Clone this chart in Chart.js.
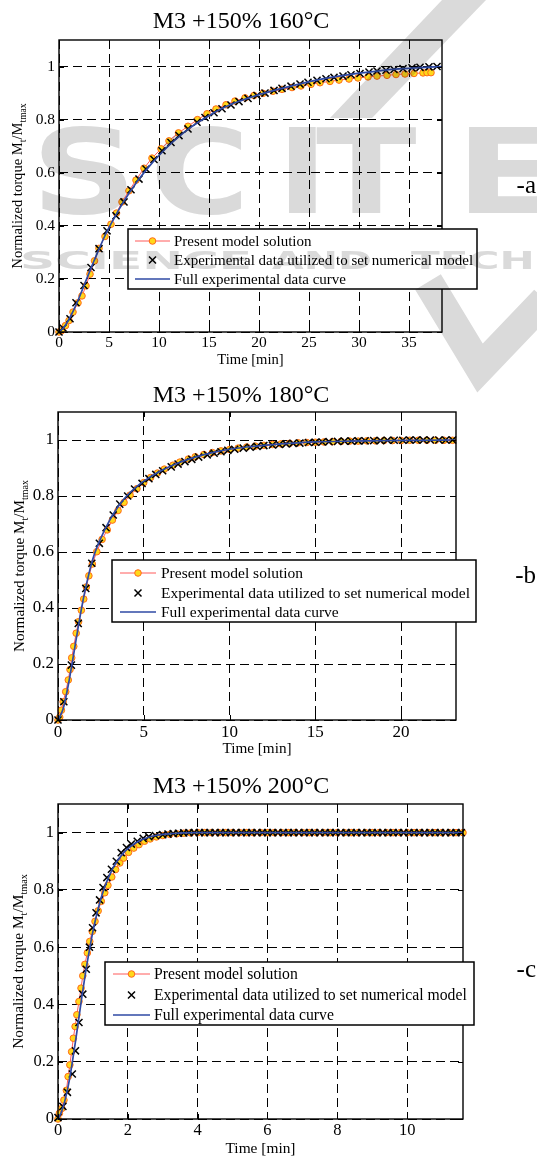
<!DOCTYPE html>
<html>
<head>
<meta charset="utf-8">
<script src="https://cdn.jsdelivr.net/npm/chart.js@4.4.1/dist/chart.umd.min.js"></script>
<style>
  html, body { margin: 0; padding: 0; background: #fff; }
  body { width: 537px; height: 1158px; position: relative; overflow: hidden; }
  canvas.panel { position: absolute; left: 0; display: block; }
  #wm { position: absolute; left: 0; top: 0; mix-blend-mode: multiply; pointer-events: none; }
</style>
</head>
<body>
<canvas class="panel" id="chartA" width="537" height="370" style="top:0"></canvas>
<canvas class="panel" id="chartB" width="537" height="400" style="top:370px"></canvas>
<canvas class="panel" id="chartC" width="537" height="388" style="top:770px"></canvas>
<canvas id="wm" width="537" height="1158"></canvas>
<script>
// ---- data: 160°C ----
const tModelA = [0, 0.25, 0.65, 1.0, 1.4, 1.9, 2.3, 2.7, 3.1, 3.55, 4.0, 4.6, 5.2, 5.75, 6.3, 7.0, 7.7, 8.5, 9.3, 10.2, 11.0, 11.95, 12.9, 13.85, 14.8, 15.7, 16.7, 17.6, 18.6, 19.5, 20.4, 21.4, 22.3, 23.3, 24.2, 25.2, 26.1, 27.1, 28.0, 29.0, 29.9, 30.9, 31.8, 32.8, 33.7, 34.6, 35.5, 36.4, 36.8, 37.2];
const modelA = [0, 0.005, 0.024, 0.043, 0.075, 0.11, 0.136, 0.174, 0.218, 0.268, 0.315, 0.36, 0.406, 0.448, 0.49, 0.532, 0.572, 0.617, 0.655, 0.69, 0.72, 0.75, 0.775, 0.8, 0.822, 0.84, 0.856, 0.87, 0.882, 0.891, 0.899, 0.907, 0.914, 0.921, 0.927, 0.933, 0.939, 0.944, 0.949, 0.953, 0.957, 0.961, 0.964, 0.967, 0.97, 0.972, 0.974, 0.976, 0.977, 0.977];
const tExpA = [0, 0.4, 1.1, 1.7, 2.5, 3.2, 4.0, 4.8, 5.7, 6.5, 7.2, 8.0, 8.7, 9.5, 10.3, 11.2, 12.0, 12.9, 13.8, 14.6, 15.5, 16.3, 17.2, 18.0, 18.9, 19.8, 20.6, 21.5, 22.3, 23.2, 24.1, 24.9, 25.8, 26.7, 27.5, 28.4, 29.2, 30.1, 31.0, 31.8, 32.7, 33.5, 34.4, 35.3, 36.1, 37.0, 37.8];
const expA = [0, 0.015, 0.05, 0.11, 0.175, 0.243, 0.314, 0.381, 0.438, 0.49, 0.536, 0.576, 0.614, 0.65, 0.683, 0.714, 0.74, 0.765, 0.79, 0.808, 0.826, 0.841, 0.855, 0.868, 0.88, 0.891, 0.9, 0.91, 0.918, 0.926, 0.934, 0.941, 0.948, 0.954, 0.959, 0.964, 0.969, 0.974, 0.979, 0.983, 0.986, 0.989, 0.992, 0.995, 0.997, 0.999, 1.0];
const tFullA = [0, 0.5, 1, 1.5, 2, 2.5, 3, 3.5, 4, 4.5, 5, 5.5, 6, 6.5, 7, 7.5, 8, 9, 10, 11, 12, 13, 14, 15, 16, 17, 18, 19, 20, 22, 24, 26, 28, 30, 32, 34, 36, 38.3];
const fullA = [0, 0.018, 0.048, 0.085, 0.128, 0.175, 0.222, 0.268, 0.312, 0.355, 0.393, 0.428, 0.462, 0.493, 0.523, 0.55, 0.576, 0.623, 0.665, 0.703, 0.736, 0.766, 0.792, 0.815, 0.836, 0.854, 0.869, 0.882, 0.894, 0.915, 0.934, 0.951, 0.964, 0.975, 0.984, 0.991, 0.996, 1.0];

// ---- data: 180°C ----
const tModelB = [0, 0.1, 0.2, 0.3, 0.45, 0.6, 0.7, 0.8, 0.92, 1.06, 1.2, 1.36, 1.5, 1.65, 1.8, 2.0, 2.26, 2.57, 2.87, 3.17, 3.5, 3.85, 4.2, 4.6, 5.0, 5.4, 5.8, 6.2, 6.7, 7.1, 7.6, 8.0, 8.5, 9.0, 9.5, 10.0, 10.5, 11.0, 11.5, 12.0, 12.5, 13.0, 13.5, 14.0, 14.5, 15.0, 15.5, 16.0, 16.5, 17.0, 17.5, 18.0, 18.5, 19.0, 19.5, 20.0, 20.5, 21.0, 21.5, 22.0, 22.5, 23.0];
const modelB = [0, 0.01, 0.035, 0.065, 0.101, 0.143, 0.18, 0.222, 0.263, 0.31, 0.351, 0.392, 0.432, 0.475, 0.515, 0.557, 0.601, 0.645, 0.679, 0.714, 0.748, 0.777, 0.803, 0.826, 0.848, 0.866, 0.882, 0.896, 0.91, 0.921, 0.932, 0.94, 0.948, 0.955, 0.961, 0.966, 0.971, 0.975, 0.978, 0.981, 0.984, 0.986, 0.988, 0.99, 0.991, 0.992, 0.993, 0.994, 0.995, 0.996, 0.996, 0.997, 0.997, 0.998, 0.998, 0.998, 0.999, 0.999, 0.999, 0.999, 0.999, 0.999];
const tExpB = [0, 0.34, 0.78, 1.18, 1.62, 1.97, 2.41, 2.8, 3.22, 3.6, 4.06, 4.46, 4.9, 5.3, 5.7, 6.1, 6.6, 7.0, 7.4, 7.8, 8.2, 8.7, 9.1, 9.5, 9.9, 10.3, 10.8, 11.2, 11.6, 12.0, 12.5, 12.9, 13.3, 13.7, 14.1, 14.6, 15.0, 15.4, 15.8, 16.3, 16.7, 17.1, 17.5, 17.9, 18.4, 18.8, 19.2, 19.6, 20.1, 20.5, 20.9, 21.3, 21.7, 22.2, 22.6, 23.0];
const expB = [0, 0.065, 0.196, 0.345, 0.47, 0.56, 0.631, 0.687, 0.732, 0.771, 0.8, 0.825, 0.845, 0.862, 0.877, 0.89, 0.904, 0.914, 0.923, 0.931, 0.939, 0.947, 0.953, 0.958, 0.963, 0.967, 0.971, 0.974, 0.977, 0.98, 0.982, 0.984, 0.986, 0.988, 0.989, 0.991, 0.992, 0.993, 0.994, 0.995, 0.996, 0.996, 0.997, 0.997, 0.998, 0.998, 0.999, 0.999, 0.999, 1.0, 1.0, 1.0, 1.0, 1.0, 1.0, 1.0];
const tFullB = [0, 0.3, 0.6, 0.9, 1.2, 1.5, 1.8, 2.1, 2.5, 3, 3.5, 4, 4.5, 5, 6, 7, 8, 9, 10, 11, 12, 13, 14, 15, 17, 19, 21, 23.2];
const fullB = [0, 0.04, 0.125, 0.23, 0.34, 0.44, 0.522, 0.588, 0.65, 0.712, 0.762, 0.8, 0.829, 0.853, 0.89, 0.918, 0.939, 0.955, 0.967, 0.975, 0.981, 0.986, 0.99, 0.993, 0.996, 0.998, 0.999, 1.0];

// ---- data: 200°C ----
const tModelC = [0, 0.04, 0.11, 0.17, 0.24, 0.29, 0.34, 0.39, 0.44, 0.49, 0.54, 0.6, 0.66, 0.71, 0.77, 0.84, 0.91, 0.98, 1.06, 1.15, 1.24, 1.34, 1.43, 1.54, 1.65, 1.77, 1.88, 2.02, 2.17, 2.32, 2.48, 2.64, 2.82, 3.0, 3.2, 3.4, 3.6, 3.8,
  4.0, 4.2, 4.4, 4.6, 4.8, 5.0, 5.2, 5.4, 5.6, 5.8, 6.0, 6.2, 6.4, 6.6, 6.8, 7.0, 7.2, 7.4, 7.6, 7.8, 8.0, 8.2, 8.4, 8.6, 8.8, 9.0, 9.2, 9.4, 9.6, 9.8, 10.0, 10.2, 10.4, 10.6, 10.8, 11.0, 11.2, 11.4, 11.6];
const modelC = [0, 0.02, 0.037, 0.066, 0.1, 0.148, 0.189, 0.235, 0.282, 0.323, 0.364, 0.41, 0.457, 0.5, 0.54, 0.58, 0.62, 0.655, 0.69, 0.727, 0.76, 0.79, 0.816, 0.845, 0.871, 0.894, 0.911, 0.931, 0.946, 0.958, 0.97, 0.978, 0.985, 0.99, 0.994, 0.996, 0.998, 0.999,
  1, 1, 1, 1, 1, 1, 1, 1, 1, 1, 1, 1, 1, 1, 1, 1, 1, 1, 1, 1, 1, 1, 1, 1, 1, 1, 1, 1, 1, 1, 1, 1, 1, 1, 1, 1, 1, 1, 1];
const tExpC = [0, 0.14, 0.27, 0.41, 0.5, 0.6, 0.71, 0.81, 0.9, 0.99, 1.09, 1.19, 1.29, 1.4, 1.53, 1.67, 1.81, 1.96, 2.1, 2.27, 2.44, 2.6, 2.79, 3.0,
  3.15, 3.3, 3.45, 3.6, 3.75, 3.9, 4.05, 4.2, 4.35, 4.5, 4.65, 4.8, 4.95, 5.1, 5.25, 5.4, 5.55, 5.7, 5.85, 6.0, 6.15, 6.3, 6.45, 6.6, 6.75, 6.9, 7.05, 7.2, 7.35, 7.5, 7.65, 7.8, 7.95, 8.1, 8.25, 8.4, 8.55, 8.7, 8.85, 9.0, 9.15, 9.3, 9.45, 9.6, 9.75, 9.9, 10.05, 10.2, 10.35, 10.5, 10.65, 10.8, 10.95, 11.1, 11.25, 11.4, 11.55];
const expC = [0.005, 0.044, 0.093, 0.157, 0.238, 0.337, 0.436, 0.523, 0.6, 0.668, 0.72, 0.765, 0.808, 0.843, 0.872, 0.9, 0.93, 0.948, 0.96, 0.97, 0.98, 0.986, 0.99, 0.993,
  0.995, 0.997, 0.998, 0.999, 1, 1, 1, 1, 1, 1, 1, 1, 1, 1, 1, 1, 1, 1, 1, 1, 1, 1, 1, 1, 1, 1, 1, 1, 1, 1, 1, 1, 1, 1, 1, 1, 1, 1, 1, 1, 1, 1, 1, 1, 1, 1, 1, 1, 1, 1, 1, 1, 1, 1, 1, 1, 1];
const tFullC = [0, 0.1, 0.2, 0.3, 0.4, 0.5, 0.6, 0.7, 0.8, 0.9, 1.0, 1.1, 1.2, 1.3, 1.4, 1.5, 1.6, 1.8, 2.0, 2.2, 2.4, 2.6, 2.8, 3.0, 3.3, 3.6, 4.0, 5, 6, 7, 8, 9, 10, 11, 11.6];
const fullC = [0, 0.025, 0.065, 0.12, 0.19, 0.27, 0.355, 0.44, 0.52, 0.59, 0.655, 0.71, 0.757, 0.797, 0.83, 0.858, 0.882, 0.918, 0.944, 0.962, 0.975, 0.984, 0.99, 0.994, 0.997, 0.999, 1, 1, 1, 1, 1, 1, 1, 1, 1];

// ---- ticks / labels ----
const xTicksA = [0, 5, 10, 15, 20, 25, 30, 35];
const xTicksB = [0, 5, 10, 15, 20];
const xTicksC = [0, 2, 4, 6, 8, 10];
const yTicks = [0, 0.2, 0.4, 0.6, 0.8, 1];
const seriesNames = ['Present model solution', 'Experimental data utilized to set numerical model', 'Full experimental data curve'];

const SERIF = "'Liberation Serif', 'Times New Roman', serif";
const RED = '#ff5a5a', YEL = '#ffd81a', ORG = '#ff6a1a', BLUE = '#2f4aa5';

const pts = (xs, ys) => xs.map((x, i) => ({ x, y: ys[i] }));

function makeDatasets(tm, ym, te, ye, tf, yf) {
    return [
        { label: seriesNames[0], data: pts(tm, ym), showLine: true, borderColor: RED, borderWidth: 1,
          pointRadius: 3.3, pointBackgroundColor: YEL, pointBorderColor: ORG, pointBorderWidth: 1, order: 3, clip: false },
        { label: seriesNames[1], data: pts(te, ye), showLine: false, pointStyle: 'crossRot', pointRadius: 5,
          pointBorderColor: '#000', pointBorderWidth: 1.5, order: 2, clip: false },
        { label: seriesNames[2], data: pts(tf, yf), showLine: true, borderColor: BLUE, borderWidth: 1.7,
          pointRadius: 0, cubicInterpolationMode: 'monotone', order: 1, clip: false },
    ];
}

function drawYLabel(ctx, cx, cy, size) {
    ctx.save();
    ctx.translate(cx, cy);
    ctx.rotate(-Math.PI / 2);
    const big = size + 'px ' + SERIF;
    const small = (size * 0.66).toFixed(1) + 'px ' + SERIF;
    const parts = [['Normalized torque M', big, 0], ['t', small, size * 0.25], ['/M', big, 0], ['tmax', small, size * 0.25]];
    ctx.textAlign = 'left';
    ctx.textBaseline = 'alphabetic';
    let total = 0;
    parts.forEach(([s, f]) => { ctx.font = f; total += ctx.measureText(s).width; });
    let x = -total / 2;
    ctx.fillStyle = '#000';
    parts.forEach(([s, f, dy]) => {
        ctx.font = f;
        ctx.fillText(s, x, dy);
        x += ctx.measureText(s).width;
    });
    ctx.restore();
}

function drawLegend(ctx, lg) {
    ctx.save();
    ctx.fillStyle = '#fff';
    ctx.fillRect(lg.x, lg.y, lg.w, lg.h);
    ctx.strokeStyle = '#000';
    ctx.lineWidth = 1.5;
    ctx.strokeRect(lg.x, lg.y, lg.w, lg.h);
    const mid = (lg.lx0 + lg.lx1) / 2;
    // model
    ctx.strokeStyle = RED; ctx.lineWidth = 1;
    ctx.beginPath(); ctx.moveTo(lg.lx0, lg.rows[0]); ctx.lineTo(lg.lx1, lg.rows[0]); ctx.stroke();
    ctx.beginPath(); ctx.arc(mid, lg.rows[0], 3.3, 0, Math.PI * 2);
    ctx.fillStyle = YEL; ctx.fill(); ctx.strokeStyle = ORG; ctx.stroke();
    // experimental points
    ctx.strokeStyle = '#000'; ctx.lineWidth = 1.5;
    const r = 3.5;
    ctx.beginPath();
    ctx.moveTo(mid - r, lg.rows[1] - r); ctx.lineTo(mid + r, lg.rows[1] + r);
    ctx.moveTo(mid - r, lg.rows[1] + r); ctx.lineTo(mid + r, lg.rows[1] - r);
    ctx.stroke();
    // full curve
    ctx.strokeStyle = BLUE; ctx.lineWidth = 1.7;
    ctx.beginPath(); ctx.moveTo(lg.lx0, lg.rows[2]); ctx.lineTo(lg.lx1, lg.rows[2]); ctx.stroke();
    ctx.fillStyle = '#000';
    ctx.font = lg.font + 'px ' + SERIF;
    ctx.textBaseline = 'middle';
    ctx.textAlign = 'left';
    seriesNames.forEach((s, i) => ctx.fillText(s, lg.tx, lg.rows[i] + 1));
    ctx.restore();
}

function decorPlugin(cfg) {
    return {
        id: 'decor',
        afterDraw(chart) {
            const { ctx, chartArea: ca, scales } = chart;
            ctx.save();
            // inward ticks on all sides
            ctx.strokeStyle = '#000';
            ctx.lineWidth = 1;
            ctx.beginPath();
            scales.x.ticks.forEach((t) => {
                const px = Math.round(scales.x.getPixelForValue(t.value)) + 0.5;
                ctx.moveTo(px, ca.bottom); ctx.lineTo(px, ca.bottom - 5);
                ctx.moveTo(px, ca.top); ctx.lineTo(px, ca.top + 5);
            });
            scales.y.ticks.forEach((t) => {
                const py = Math.round(scales.y.getPixelForValue(t.value)) + 0.5;
                ctx.moveTo(ca.left, py); ctx.lineTo(ca.left + 5, py);
                ctx.moveTo(ca.right, py); ctx.lineTo(ca.right - 5, py);
            });
            ctx.stroke();
            // frame
            ctx.lineWidth = 1.4;
            ctx.strokeRect(ca.left, ca.top, ca.right - ca.left, ca.bottom - ca.top);

            ctx.fillStyle = '#000';
            ctx.textBaseline = 'alphabetic';
            // title
            ctx.textAlign = 'center';
            ctx.font = '24px ' + SERIF;
            ctx.fillText(cfg.title, 241, cfg.titleY);
            // x label
            ctx.font = cfg.labelSize + 'px ' + SERIF;
            ctx.fillText('Time [min]', (ca.left + ca.right) / 2, cfg.xLabelY);
            // panel tag
            ctx.textAlign = 'right';
            ctx.font = '25px ' + SERIF;
            ctx.fillText(cfg.tag, 536, cfg.tagY);
            ctx.restore();
            // y label
            drawYLabel(ctx, cfg.yLabelX, (ca.top + ca.bottom) / 2, cfg.labelSize);
            drawLegend(ctx, cfg.legend);
        },
    };
}

function axis(min, max, ticks, tickSize, pad, fit) {
    return {
        type: 'linear',
        min, max,
        afterBuildTicks: (s) => { s.ticks = ticks.map((v) => ({ value: v })); },
        afterFit: fit,
        grid: { color: '#000', lineWidth: 1, drawTicks: false },
        border: { display: false, dash: [9, 5] },
        ticks: { color: '#000', padding: pad, autoSkip: false, maxRotation: 0,
                 font: { family: SERIF, size: tickSize }, callback: (v) => String(v) },
    };
}

function makeChart(id, cfg) {
    new Chart(document.getElementById(id), {
        type: 'scatter',
        data: { datasets: cfg.datasets },
        options: {
            responsive: false,
            animation: false,
            events: [],
            layout: { padding: cfg.padding },
            plugins: { legend: { display: false }, tooltip: { enabled: false } },
            scales: {
                x: axis(0, cfg.xMax, cfg.xTicks, cfg.tickSize, 2, (s) => { s.height = cfg.xHeight; }),
                y: axis(0, 1.1, yTicks, cfg.tickSize, 4, (s) => { s.width = cfg.yWidth; }),
            },
        },
        plugins: [decorPlugin(cfg)],
    });
}

makeChart('chartA', {
    datasets: makeDatasets(tModelA, modelA, tExpA, expA, tFullA, fullA),
    xMax: 38.3, xTicks: xTicksA, tickSize: 15.5, labelSize: 14.6,
    padding: { top: 40, right: 95, left: 0, bottom: 0 }, yWidth: 59, xHeight: 38,
    title: 'M3 +150% 160°C', titleY: 28, xLabelY: 364, yLabelX: 22, tag: '-a', tagY: 193,
    legend: { x: 128, y: 229, w: 349, h: 60, rows: [241, 260, 279], lx0: 135, lx1: 170, tx: 174, font: 15 },
});

makeChart('chartB', {
    datasets: makeDatasets(tModelB, modelB, tExpB, expB, tFullB, fullB),
    xMax: 23.2, xTicks: xTicksB, tickSize: 17, labelSize: 15.2,
    padding: { top: 42, right: 81, left: 0, bottom: 0 }, yWidth: 58, xHeight: 50,
    title: 'M3 +150% 180°C', titleY: 32, xLabelY: 383, yLabelX: 24, tag: '-b', tagY: 213,
    legend: { x: 112, y: 190, w: 364, h: 62, rows: [203, 223, 242], lx0: 120, lx1: 156, tx: 161, font: 15.5 },
});

makeChart('chartC', {
    datasets: makeDatasets(tModelC, modelC, tExpC, expC, tFullC, fullC),
    xMax: 11.6, xTicks: xTicksC, tickSize: 16.5, labelSize: 15.4,
    padding: { top: 34, right: 74, left: 0, bottom: 0 }, yWidth: 58, xHeight: 39,
    title: 'M3 +150% 200°C', titleY: 23, xLabelY: 383, yLabelX: 23, tag: '-c', tagY: 207,
    legend: { x: 105, y: 192, w: 369, h: 63, rows: [204, 225, 245], lx0: 113, lx1: 150, tx: 154, font: 15.7 },
});

// faint publisher watermark over the first panel
(function drawWatermark() {
    const c = document.getElementById('wm').getContext('2d');
    c.fillStyle = '#dadada';
    c.strokeStyle = '#dadada';
    c.font = "bold 118px 'DejaVu Sans', sans-serif";
    [['S', 31, 1.25], ['C', 150, 1.15], ['I', 276, 1.2], ['T', 316, 1.25], ['E', 455, 1.3]].forEach(([ch, x, sx]) => {
        c.save(); c.translate(x, 213); c.scale(sx, 1); c.fillText(ch, 0, 0); c.restore();
    });
    const fitWord = (w, x, y, width) => {
        c.font = "bold 25px 'DejaVu Sans', sans-serif";
        const m = c.measureText(w).width;
        c.save(); c.translate(x, y); c.scale(width / m, 1); c.fillText(w, 0, 0); c.restore();
    };
    fitWord('SCIENCE', 20, 269, 232);
    fitWord('AND', 272, 269, 100);
    fitWord('TECHNOLOGY', 411, 269, 320);
    c.beginPath();
    c.moveTo(442, 0); c.lineTo(486, 0); c.lineTo(372, 118); c.lineTo(330, 118); c.closePath();
    c.fill();
    c.lineWidth = 30;
    c.lineJoin = 'miter';
    c.beginPath();
    c.moveTo(428, 282); c.lineTo(480, 368); c.lineTo(545, 300);
    c.stroke();
})();
</script>
</body>
</html>
